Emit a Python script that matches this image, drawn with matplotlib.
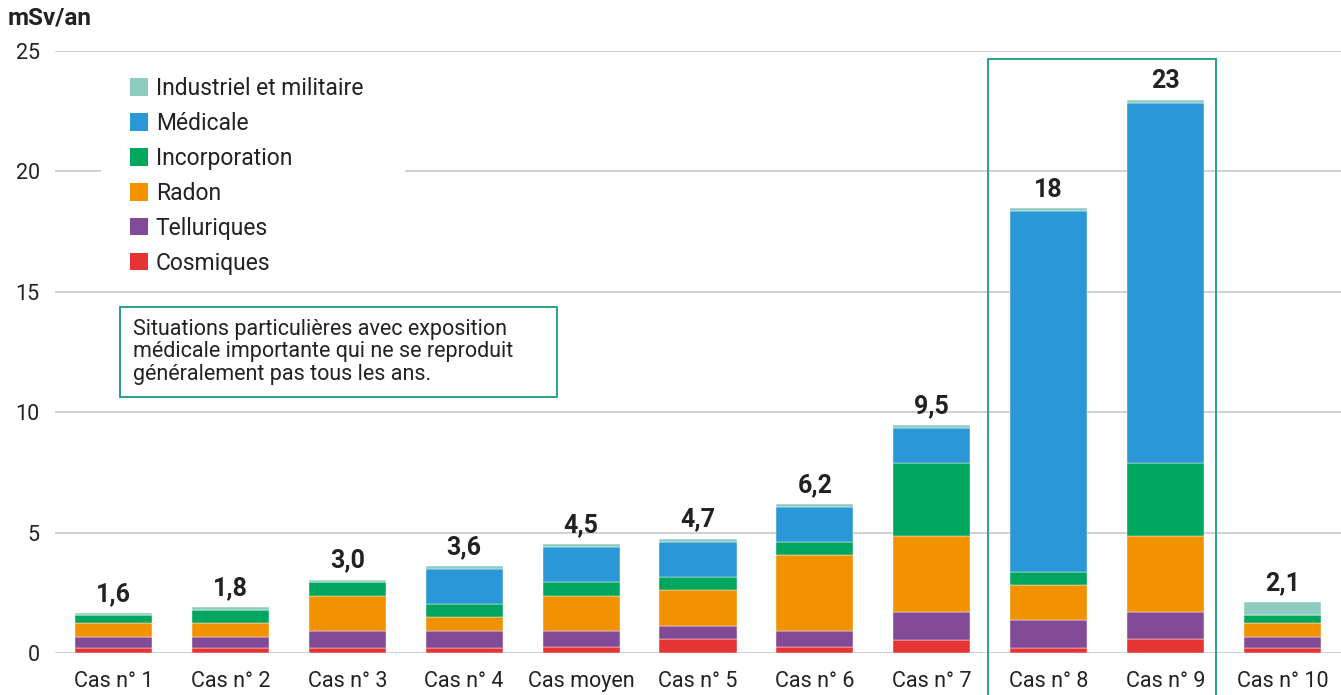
import numpy as np
import matplotlib
matplotlib.use("Agg")
import matplotlib.pyplot as plt
from matplotlib.patches import Rectangle, Patch

plt.rcParams["font.family"] = ["Roboto", "DejaVu Sans"]

categories = ["Cas n° 1", "Cas n° 2", "Cas n° 3", "Cas n° 4", "Cas moyen", "Cas n° 5",
              "Cas n° 6", "Cas n° 7", "Cas n° 8", "Cas n° 9", "Cas n° 10"]
# mSv/an per exposure source, stacked bottom to top
cosmiques = [0.22, 0.22, 0.22, 0.22, 0.23, 0.57, 0.23, 0.56, 0.22, 0.57, 0.22]
telluriques = [0.44, 0.44, 0.68, 0.68, 0.68, 0.55, 0.68, 1.14, 1.14, 1.12, 0.44]
radon = [0.58, 0.58, 1.48, 0.58, 1.47, 1.48, 3.15, 3.16, 1.46, 3.17, 0.59]
incorporation = [0.34, 0.55, 0.56, 0.56, 0.56, 0.56, 0.55, 3.03, 0.54, 3.05, 0.32]
medicale = [0.0, 0.0, 0.0, 1.44, 1.46, 1.45, 1.45, 1.45, 15.0, 14.93, 0.0]
industriel = [0.08, 0.10, 0.11, 0.12, 0.11, 0.14, 0.13, 0.13, 0.10, 0.12, 0.56]
total_labels = ["1,6", "1,8", "3,0", "3,6", "4,5", "4,7", "6,2", "9,5", "18", "23", "2,1"]

series = [
    ("Cosmiques", cosmiques, "#e63434"),
    ("Telluriques", telluriques, "#834a97"),
    ("Radon", radon, "#f29200"),
    ("Incorporation", incorporation, "#00a55e"),
    ("Médicale", medicale, "#2a98d6"),
    ("Industriel et militaire", industriel, "#8ecbc1"),
]
BOX = "#1a9a82"
INK = "#222222"
W, H = 1341, 695

fig = plt.figure(figsize=(W / 100, H / 100), dpi=100)
ax = fig.add_axes([55 / W, 1 - 653 / H, 1 - 55 / W, (653 - 51) / H])

x = np.arange(len(categories))
bottom = np.zeros(len(categories))
for name, vals, col in series:
    ax.bar(x, vals, 0.66, bottom=bottom, color=col, edgecolor="white",
           linewidth=0.3, zorder=3)
    bottom += np.array(vals)

for xi, top, lab in zip(x, bottom, total_labels):
    ax.annotate(lab, (xi, top), xytext=(0, 5), textcoords="offset points",
                ha="center", va="bottom", fontsize=18, fontweight="bold", color=INK)

ax.set_xlim(-0.5, 10.5)
ax.set_ylim(0, 25)
ax.set_yticks([0, 5, 10, 15, 20, 25])
ax.set_xticks(x)
ax.set_xticklabels(categories)
ax.tick_params(axis="both", length=0, labelsize=15.5, colors=INK)
ax.tick_params(axis="x", pad=13)
ax.tick_params(axis="y", pad=11)
ax.grid(True, axis="y", color="#c8c8c8", lw=1.2, zorder=0)
ax.set_axisbelow(True)
for s in ax.spines.values():
    s.set_visible(False)

fig.text(8 / W, 1 - 18 / H, "mSv/an", fontsize=17.5, fontweight="bold",
         color=INK, va="center", ha="left")

# frame around the two high medical-exposure cases
ax.add_patch(Rectangle((7.48, -2.5), 9.43 - 7.48, 24.66 + 2.5, fill=False,
                       edgecolor=BOX, lw=1.3, clip_on=False, zorder=4))

# white panel behind the legend hides the gridline
ax.add_patch(Rectangle((101 / W, 1 - 285 / H), 304 / W, 215 / H, transform=fig.transFigure,
                       facecolor="white", edgecolor="none", zorder=2))
handles = [Patch(facecolor=c, edgecolor="none", label=n) for n, _, c in series[::-1]]
leg = ax.legend(handles=handles, loc="upper left",
                bbox_to_anchor=(130 / W, 1 - 77 / H), bbox_transform=fig.transFigure,
                fontsize=16.5, frameon=False, borderaxespad=0, borderpad=0,
                handlelength=0.8, handleheight=0.8,
                handletextpad=0.33, labelspacing=0.52)
for t in leg.get_texts():
    t.set_color(INK)

# note box
fig.patches.append(Rectangle((120 / W, 1 - 397 / H), 437 / W, 90 / H, transform=fig.transFigure,
                             facecolor="white", edgecolor=BOX, lw=1.3, zorder=5))
fig.text(133 / W, 1 - 352 / H,
         "Situations particulières avec exposition\nmédicale importante qui ne se reproduit\ngénéralement pas tous les ans.",
         fontsize=15.5, color=INK, ha="left", va="center", linespacing=1.12, zorder=6)

fig.savefig("out.png", dpi=100)
